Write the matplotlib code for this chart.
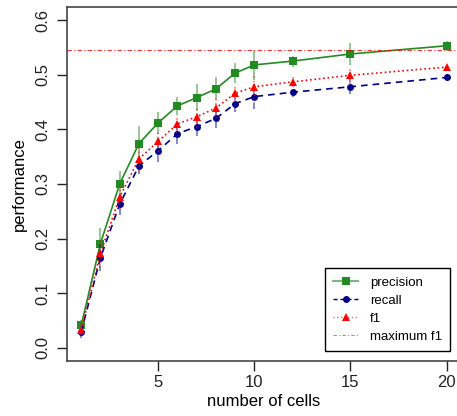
import numpy as np
import matplotlib.pyplot as plt
from matplotlib.lines import Line2D

plt.rcParams['font.family'] = ['Liberation Sans', 'DejaVu Sans']

cells = [1, 2, 3, 4, 5, 6, 7, 8, 9, 10, 12, 15, 20]
precision = [0.041, 0.191, 0.300, 0.374, 0.412, 0.443, 0.458, 0.474, 0.503, 0.518, 0.525, 0.538, 0.553]
precision_err = [0.010, 0.028, 0.023, 0.033, 0.020, 0.017, 0.025, 0.021, 0.018, 0.028, 0.010, 0.020, 0.009]
recall = [0.029, 0.165, 0.263, 0.333, 0.361, 0.392, 0.405, 0.420, 0.447, 0.460, 0.468, 0.478, 0.495]
recall_err = [0.010, 0.025, 0.020, 0.015, 0.020, 0.018, 0.017, 0.017, 0.015, 0.023, 0.008, 0.014, 0.007]
f1 = [0.033, 0.173, 0.276, 0.346, 0.378, 0.410, 0.423, 0.439, 0.466, 0.478, 0.487, 0.499, 0.514]
f1_err = [0.010, 0.026, 0.021, 0.022, 0.020, 0.017, 0.020, 0.018, 0.016, 0.025, 0.009, 0.016, 0.008]
max_f1 = 0.546

green = '#228B22'
blue = '#00008B'
red = '#FF0000'

fig = plt.figure(figsize=(4.57, 4.16), dpi=100)
ax = fig.add_axes([0.1457, 0.1322, 0.8637, 0.851])

def series(y, err, color, ls, marker, ms):
    eb = ax.errorbar(cells, y, yerr=err, fmt='none', ecolor=color, elinewidth=1.2,
                     alpha=0.55, capsize=0)
    eb[2][0].set_linestyle(ls)
    ax.plot(cells, y, color=color, linestyle=ls, linewidth=1.2, marker=marker,
            markersize=ms, markeredgewidth=0)

series(precision, precision_err, green, '-', 's', 5.2)
series(recall, recall_err, blue, (0, (4, 3)), 'o', 5)
series(f1, f1_err, red, ':', '^', 5.6)
ax.axhline(max_f1, color=red, linestyle=(0, (4, 2, 1, 2)), linewidth=0.8, alpha=0.8)

ax.set_xlim(0.24, 20.76)
ax.set_ylim(-0.024, 0.624)
ax.set_xticks([5, 10, 15, 20])
ax.set_yticks(np.arange(0, 0.61, 0.1))
ax.set_yticklabels([f'{v:.1f}' for v in np.arange(0, 0.61, 0.1)], rotation=90, va='center')
ax.tick_params(direction='out', length=7, width=1, labelsize=12, colors='#222222')
ax.tick_params(axis='x', pad=3)
ax.tick_params(axis='y', pad=5)
for s in ax.spines.values():
    s.set_color('#444444')
    s.set_linewidth(1.2)
ax.set_xlabel('number of cells', fontsize=12, labelpad=3)
ax.set_ylabel('performance', fontsize=12, labelpad=6)

handles = [
    Line2D([], [], color=green, alpha=0.6, linestyle='-', linewidth=1.5),
    Line2D([], [], color=blue, linestyle=(0, (3, 2)), linewidth=1),
    Line2D([], [], color=red, alpha=0.6, linestyle=':', linewidth=1),
    Line2D([], [], color=red, alpha=0.6, linestyle=(0, (3, 2, 1, 2)), linewidth=0.8),
]
marks = [
    Line2D([], [], color=green, linestyle='none', marker='s', markersize=5.2, markeredgewidth=0),
    Line2D([], [], color=blue, linestyle='none', marker='o', markersize=5, markeredgewidth=0),
    Line2D([], [], color=red, linestyle='none', marker='^', markersize=5.6, markeredgewidth=0),
    Line2D([], [], linestyle='none'),
]
leg = ax.legend([(h, m) for h, m in zip(handles, marks)],
                ['precision', 'recall', 'f1', 'maximum f1'],
                loc='lower right', bbox_to_anchor=(450 / 457, 65 / 416),
                bbox_transform=fig.transFigure, fontsize=9.5, fancybox=False,
                framealpha=1, edgecolor='black', handlelength=1.9,
                labelspacing=0.45, borderpad=0.6, handletextpad=0.9, borderaxespad=0)
leg.get_frame().set_linewidth(1)

fig.savefig('out.png', dpi=100)
